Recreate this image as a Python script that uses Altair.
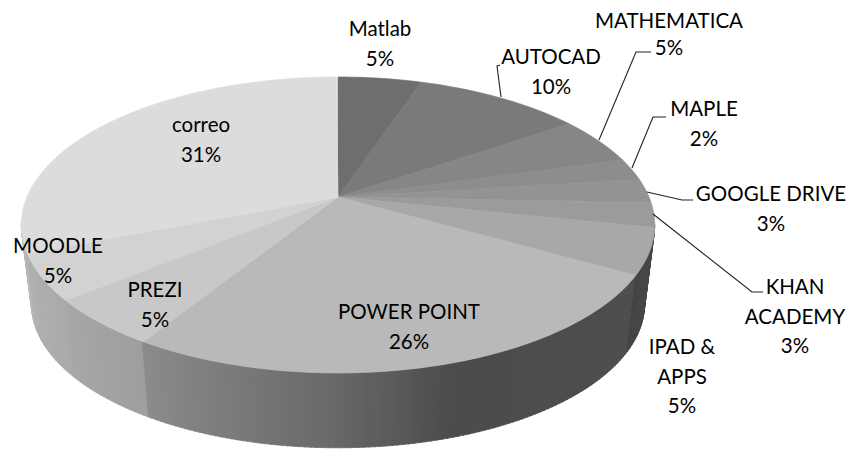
import numpy as np
import pandas as pd
import altair as alt

names = ["Matlab", "AUTOCAD", "MATHEMATICA", "MAPLE", "GOOGLE DRIVE", "KHAN ACADEMY",
         "IPAD & APPS", "POWER POINT", "PREZI", "MOODLE", "correo"]
percents = [5.1, 10.3, 5.2, 2.4, 2.6, 2.7, 5.0, 25.5, 5.2, 5.0, 30.9]
top_grays = [110, 122, 134, 141, 147, 155, 168, 185, 200, 210, 220]

label_names = [["Matlab"], ["AUTOCAD"], ["MATHEMATICA"], ["MAPLE"],
               ["GOOGLE DRIVE"], ["KHAN", "ACADEMY"], ["IPAD &", "APPS"],
               ["POWER POINT"], ["PREZI"], ["MOODLE"], ["correo"]]
label_x = [380, 551, 669, 704, 771, 795, 682, 409, 155, 58, 201]
label_y = [30, 58, 22, 110, 195, 288, 348, 313, 291, 247, 126]
line_steps = [29.5, 29.5, 27, 29.5, 29.5, 29.5, 29.5, 29.5, 29.5, 29.5, 29.5]

leaders = [
    [(501, 97), (497, 66), (500, 65)],
    [(599, 140), (636, 52), (651, 52)],
    [(632, 168), (653, 117), (666, 117)],
    [(647, 192), (682, 200), (693, 200)],
    [(653, 214), (752, 292), (763, 292)],
]

# wall shading: percent position around the pie -> grey level
wall_pos = [27.9, 33.3, 33.31, 45, 50, 58.8, 58.81, 64, 64.01, 69, 69.01, 72.1]
wall_gray = [72, 68, 78, 76, 104, 140, 158, 168, 170, 176, 178, 186]

# view geometry of the pie
CX, AP_Y, K = 338, 197, 0.189
A1, B1 = 311, 142.7
A2, B2, AP_Y2 = 301, 138.5, 277


def proj(theta, a, b, ay):
    x_, y_ = np.sin(theta), np.cos(theta)
    w = 1 + K * y_
    return CX + a * x_ / w, ay - b * y_ / w


cum = np.concatenate([[0], np.cumsum(percents)])
rows = []
# wall quads
steps = np.arange(27.9, 72.1, 0.25)
for i, p in enumerate(steps):
    t0, t1 = p / 100 * 2 * np.pi, (p + 0.3) / 100 * 2 * np.pi
    g = int(round(np.interp(p, wall_pos, wall_gray)))
    col = f"#{g:02x}{g:02x}{g:02x}"
    pts = [proj(t0, A1, B1, AP_Y), proj(t1, A1, B1, AP_Y),
           proj(t1, A2, B2, AP_Y2), proj(t0, A2, B2, AP_Y2), proj(t0, A1, B1, AP_Y)]
    for j, (x, y) in enumerate(pts):
        rows.append(dict(x=x, y=y, o=j, g=f"w{i:04d}", c=col))
wall = pd.DataFrame(rows)

rows = []
for i, name in enumerate(names):
    ts = np.linspace(cum[i], cum[i + 1], max(3, int(percents[i] * 2) + 2)) / 100 * 2 * np.pi
    g = top_grays[i]
    col = f"#{g:02x}{g:02x}{g:02x}"
    pts = [(CX, AP_Y)] + [proj(t, A1, B1, AP_Y) for t in ts] + [(CX, AP_Y)]
    for j, (x, y) in enumerate(pts):
        rows.append(dict(x=x, y=y, o=j, g=f"s{i:02d}", c=col))
top = pd.DataFrame(rows)

lead = pd.DataFrame([dict(x=x, y=y, o=j, g=i) for i, l in enumerate(leaders) for j, (x, y) in enumerate(l)])

txt_rows = []
for i, ls in enumerate(label_names):
    for k, s in enumerate(ls + [f"{round(percents[i])}%"]):
        txt_rows.append(dict(x=label_x[i], y=label_y[i] + k * line_steps[i], t=s))
txt = pd.DataFrame(txt_rows)

X = alt.X("x:Q", scale=alt.Scale(domain=[8, 846], nice=False, zero=False), axis=None)
Y = alt.Y("y:Q", scale=alt.Scale(domain=[451, 8], nice=False, zero=False), axis=None)


def poly(df):
    return alt.Chart(df).mark_line(strokeWidth=0.7).encode(
        x=X, y=Y, order="o:Q",
        color=alt.Color("c:N", scale=None, legend=None),
        fill=alt.Fill("c:N", scale=None, legend=None),
        detail="g:N",
    )


leader_layer = alt.Chart(lead).mark_line(color="#222222", strokeWidth=1.1).encode(
    x=X, y=Y, order="o:Q", detail="g:N")
text_layer = alt.Chart(txt).mark_text(font="Lato", fontSize=20.5, color="#000000",
                                      align="center", baseline="middle").encode(x=X, y=Y, text="t:N")

chart = alt.layer(poly(wall), poly(top), leader_layer, text_layer).properties(
    width=838, height=443, padding=0, autosize=alt.AutoSizeParams(type="none")
).configure_view(stroke=None)

chart.save("out.html", embed_options={"renderer": "svg", "actions": False})
